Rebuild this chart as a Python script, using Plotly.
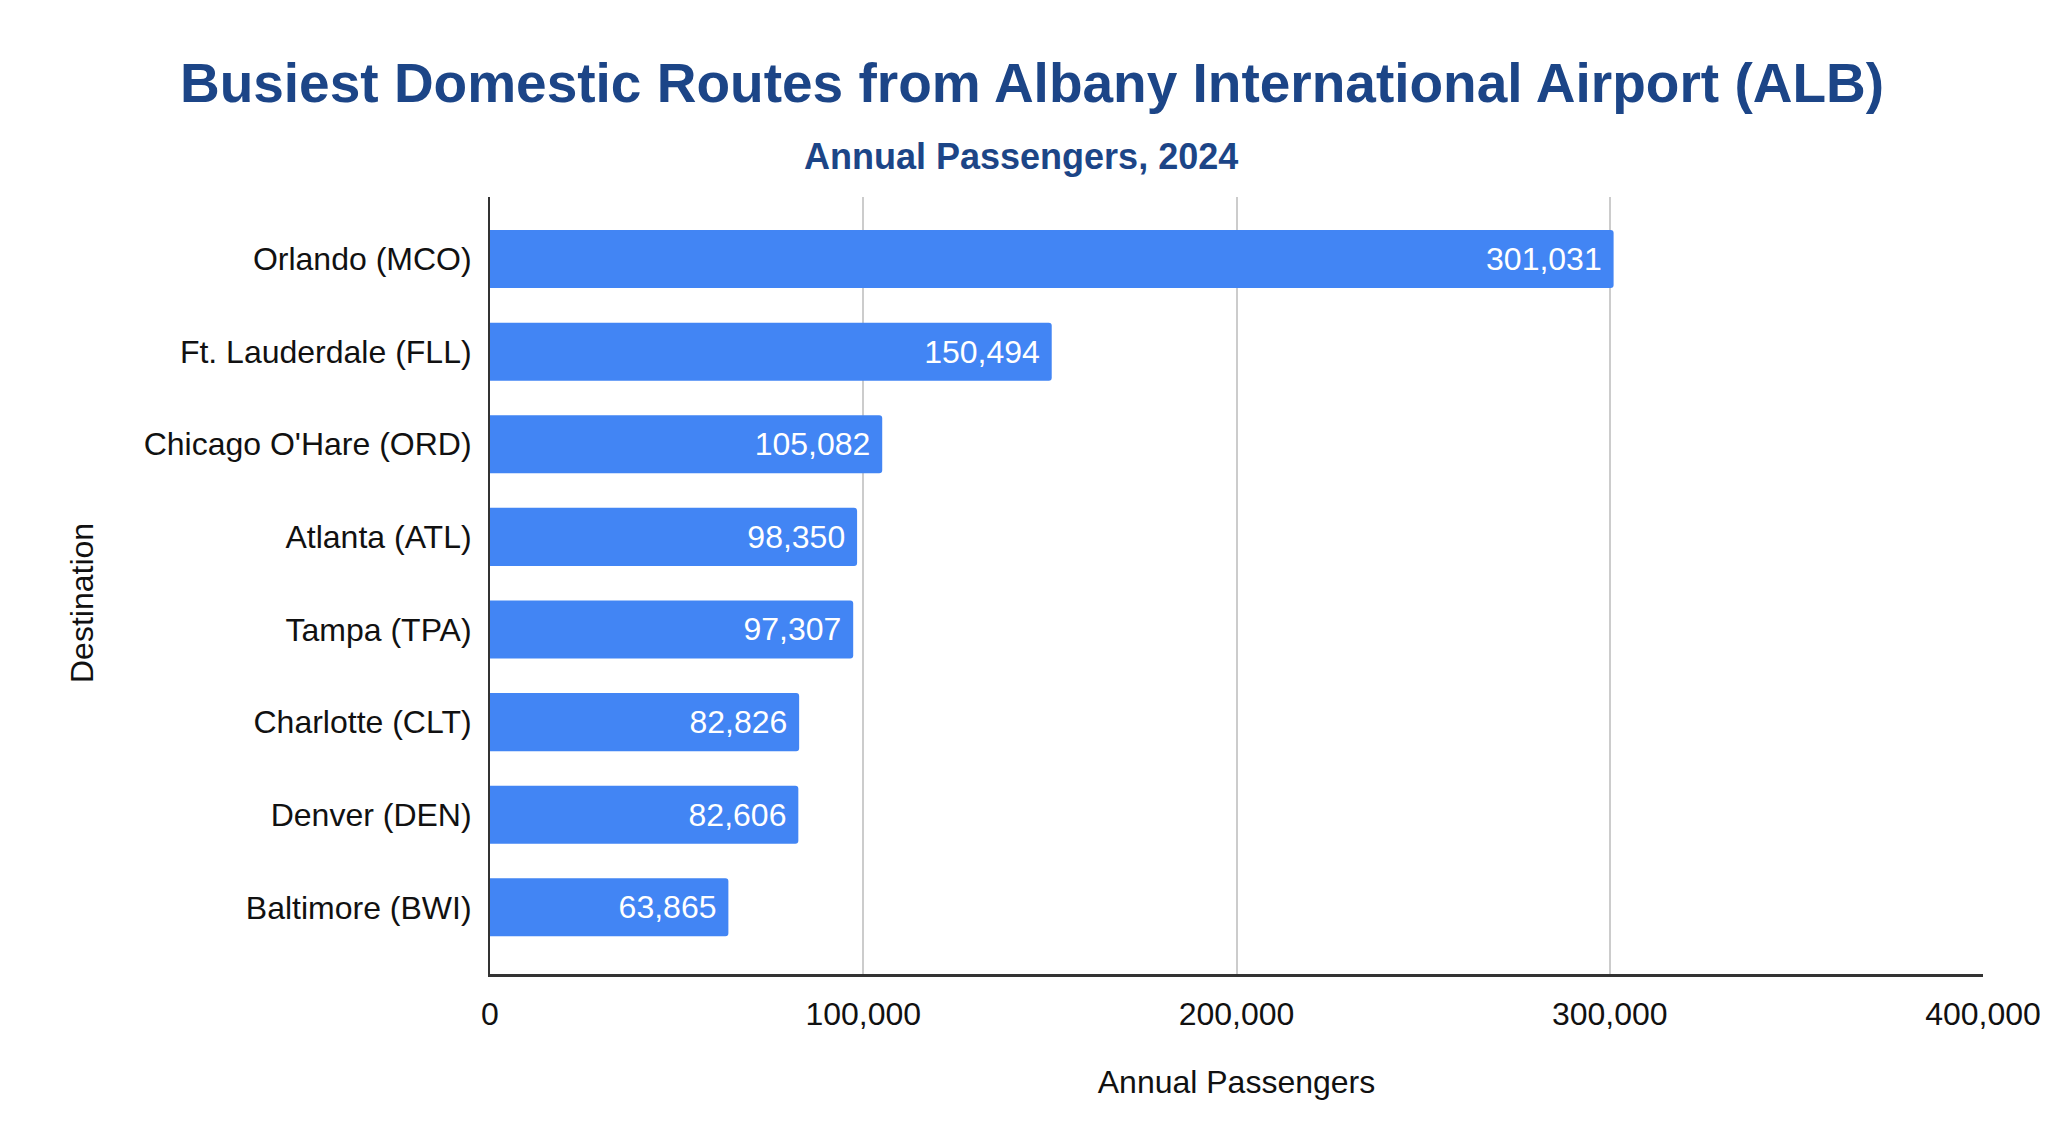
import plotly.graph_objects as go

# Daten
ziele = [
    "Orlando (MCO)",
    "Ft. Lauderdale (FLL)",
    "Chicago O'Hare (ORD)",
    "Atlanta (ATL)",
    "Tampa (TPA)",
    "Charlotte (CLT)",
    "Denver (DEN)",
    "Baltimore (BWI)",
]
passagiere = [301031, 150494, 105082, 98350, 97307, 82826, 82606, 63865]
x_ticks = [0, 100000, 200000, 300000, 400000]
x_tick_labels = ["0", "100,000", "200,000", "300,000", "400,000"]

FONT = "Liberation Sans, Arial, sans-serif"
TITEL_BLAU = "#1c4587"

# Plotbereich in Pixeln (aus der Vorlage abgemessen)
L, R, T, B = 482, 73, 189, 158
BREITE, HOEHE = 2048, 1124
plot_w = BREITE - L - R
plot_h = HOEHE - T - B

fig = go.Figure()

fig.add_trace(
    go.Bar(
        x=passagiere,
        y=ziele,
        orientation="h",
        marker=dict(color="#4285f4", cornerradius=3, line=dict(width=0)),
        # geschütztes Leerzeichen als Abstand zum Balkenende
        text=[f"{v:,}\u00a0" for v in passagiere],
        textposition="inside",
        insidetextanchor="end",
        textfont=dict(family=FONT, size=32, color="white"),
        constraintext="none",
        cliponaxis=False,
    )
)

fig.update_layout(
    width=BREITE,
    height=HOEHE,
    margin=dict(l=L, r=R, t=T, b=B),
    paper_bgcolor="white",
    plot_bgcolor="white",
    bargap=0.373,
    showlegend=False,
    font=dict(family=FONT, size=32, color="#111111"),
    title=dict(
        text="<b>Busiest Domestic Routes from Albany International Airport (ALB)</b>",
        font=dict(family=FONT, size=55, color=TITEL_BLAU),
        xref="container",
        x=0.5,
        xanchor="center",
        yref="container",
        y=1 - 75 / HOEHE,
        yanchor="middle",
    ),
    annotations=[
        # Untertitel
        dict(
            text="<b>Annual Passengers, 2024</b>",
            xref="paper", yref="paper",
            x=(1013 - L) / plot_w, y=(HOEHE - B - 148) / plot_h,
            xanchor="center", yanchor="middle",
            showarrow=False,
            font=dict(family=FONT, size=36, color=TITEL_BLAU),
        ),
        # Y-Achsentitel
        dict(
            text="Destination",
            xref="paper", yref="paper",
            x=(74 - L) / plot_w, y=(HOEHE - B - 595) / plot_h,
            xanchor="center", yanchor="middle",
            textangle=-90,
            showarrow=False,
            font=dict(family=FONT, size=32, color="#111111"),
        ),
    ],
    xaxis=dict(
        range=[0, 400000],
        tickvals=x_ticks,
        ticktext=x_tick_labels,
        showgrid=True,
        gridcolor="#cccccc",
        gridwidth=1.5,
        zeroline=False,
        showline=True,
        linecolor="#333333",
        linewidth=2.5,
        ticks="",
        ticklabelstandoff=10,
        title=dict(text="Annual Passengers", standoff=40, font=dict(size=32)),
    ),
    yaxis=dict(
        type="category",
        range=[7.72, -0.67],
        showgrid=False,
        zeroline=False,
        showline=True,
        linecolor="#333333",
        linewidth=2,
        ticks="",
        ticklabelstandoff=10,
    ),
)

fig.write_html("out.html")
